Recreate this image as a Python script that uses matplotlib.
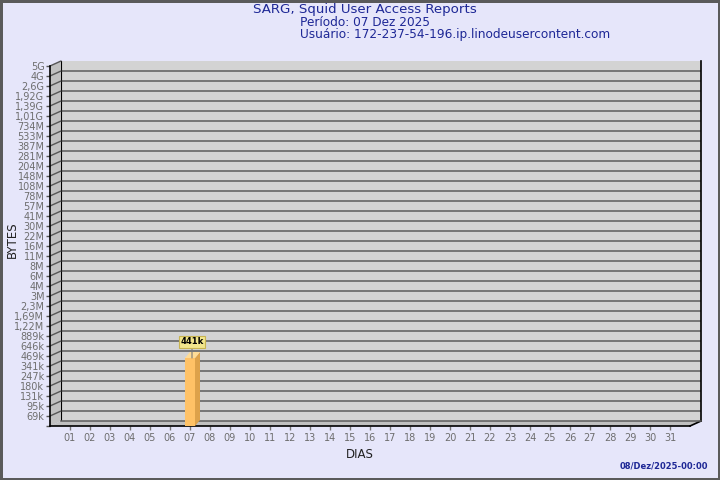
import numpy as np
import matplotlib.pyplot as plt
from matplotlib.patches import Polygon, ConnectionPatch
from matplotlib.lines import Line2D

# data
days = list(range(1, 32))
day_labels = ['%02d' % d for d in days]
bytes_day = [0] * 31
bytes_day[6] = 441000
bar_labels = {7: '441k'}

y_labels = ['69k', '95k', '131k', '180k', '247k', '341k', '469k', '646k', '889k',
            '1,22M', '1,69M', '2,3M', '3M', '4M', '6M', '8M', '11M', '16M', '22M',
            '30M', '41M', '57M', '78M', '108M', '148M', '204M', '281M', '387M',
            '533M', '734M', '1,01G', '1,39G', '1,92G', '2,6G', '4G', '5G']
y_low, y_high = 69e3, 5e9

bg = '#E6E6FA'
navy = '#1E2896'
W, H = 720, 480
DX, DY = 11, 5   # depth of the box, pixels

def fx(x, y):
    return (x / W, 1 - y / H)

fig = plt.figure(figsize=(7.2, 4.8), dpi=100, facecolor=bg,
                 edgecolor='#5A5A5A', linewidth=2.5)

ticks = np.geomspace(y_low, y_high, len(y_labels))
floor = ticks[0] / (ticks[1] / ticks[0])

# front plane (where bars and tick labels live)
L, T, Wd, Ht = 50, 66, 640, 360
ax = fig.add_axes([L / W, 1 - (T + Ht) / H, Wd / W, Ht / H], zorder=2)
ax.set_facecolor('none')
# back wall
back = fig.add_axes([(L + DX) / W, 1 - (T - DY + Ht) / H, Wd / W, Ht / H], zorder=0)
back.set_facecolor('#D3D3D3')

for a in (ax, back):
    a.set_yscale('log')
    a.set_ylim(floor, y_high)
    a.set_xlim(0, 32)
    a.minorticks_off()

back.set_xticks([])
back.set_yticks([])
back.hlines(ticks[:-1], 0, 32, colors='#5C5C5C', lw=1.1)
for s in ('top', 'bottom'):
    back.spines[s].set_visible(False)
back.spines['left'].set_color('black')
back.spines['right'].set_color('black')
back.spines['right'].set_linewidth(1.2)

# left wall and floor
x0, y0 = L, T + Ht
fig.add_artist(Polygon([fx(L, T), fx(L + DX, T - DY), fx(L + DX, y0 - DY), fx(L, y0)],
                       closed=True, transform=fig.transFigure, fc='#C0C0C0', ec='none', zorder=1))
fig.add_artist(Polygon([fx(L, y0), fx(L + DX, y0 - DY), fx(L + Wd + DX, y0 - DY), fx(L + Wd, y0)],
                       closed=True, transform=fig.transFigure, fc='#C0C0C0', ec='none', zorder=1))
fig.add_artist(Line2D([fx(L + Wd + DX, 0)[0], fx(L + Wd, 0)[0]],
                      [fx(0, y0 - DY)[1], fx(0, y0)[1]], transform=fig.transFigure,
                      color='black', lw=1.2, zorder=1))
fig.add_artist(Line2D([fx(L + DX, 0)[0], fx(L + Wd + DX, 0)[0]],
                      [fx(0, y0 - DY)[1], fx(0, y0 - DY)[1]], transform=fig.transFigure,
                      color='#5C5C5C', lw=1.1, zorder=1))

# tick diagonals from front to back
for v in ticks:
    ax.add_artist(ConnectionPatch(xyA=(0, v), coordsA=ax.get_yaxis_transform(),
                                  xyB=(0, v), coordsB=back.get_yaxis_transform(),
                                  color='#555555', lw=1.0, clip_on=False))

# axis styling
ax.set_yticks([floor] + list(ticks))
ax.set_yticklabels([''] + y_labels)
ax.set_xticks(days)
ax.set_xticklabels(day_labels)
ax.tick_params(axis='y', length=3, width=1, color='#555555', labelsize=7,
               labelcolor='#6E6E6E', pad=1)
ax.tick_params(axis='x', length=3, width=1, color='#777777', labelsize=7,
               labelcolor='#6E6E6E', pad=2)
for s in ('top', 'right'):
    ax.spines[s].set_visible(False)
ax.spines['left'].set_color('black')
ax.spines['bottom'].set_color('black')
ax.spines['left'].set_linewidth(1.2)
ax.spines['bottom'].set_linewidth(1.2)

# bars (with 3d faces)
bx = [d for d, v in zip(days, bytes_day) if v > 0]
bv = [v for v in bytes_day if v > 0]
bars = ax.bar(bx, [v - floor for v in bv], bottom=floor, width=0.5,
              color='#FFC266', edgecolor='none', zorder=3)
sx, sy = 5, 6
for r, d, v in zip(bars, bx, bv):
    (xa, ya), (xb, yb) = ax.transData.transform([(r.get_x(), floor),
                                                 (r.get_x() + r.get_width(), v)])
    side = Polygon([(xb, ya), (xb + sx, ya + sy), (xb + sx, yb + sy), (xb, yb)],
                   closed=True, transform=None, fc='#DDA24A', ec='none', zorder=3, clip_on=False)
    top = Polygon([(xa, yb), (xa + sx, yb + sy), (xb + sx, yb + sy), (xb, yb)],
                  closed=True, transform=None, fc='#FFDC96', ec='none', zorder=3, clip_on=False)
    ax.add_patch(side)
    ax.add_patch(top)
    ax.annotate(bar_labels[d], xy=(d + 0.1, v), xytext=(0, 16), textcoords='offset pixels',
                ha='center', va='center', fontsize=6, fontweight='bold', color='black',
                bbox=dict(boxstyle='square,pad=0.2', fc='#F2E68C', ec='#C8B450', lw=0.8),
                arrowprops=dict(arrowstyle='-', color='#777777', lw=0.8,
                                shrinkA=0, shrinkB=0))

# texts
fig.text(253 / W, 1 - 10 / H, 'SARG, Squid User Access Reports', fontsize=9.6,
         color=navy, ha='left', va='center')
fig.text(300 / W, 1 - 15.5 / H,
         'Período: 07 Dez 2025\nUsuário: 172-237-54-196.ip.linodeusercontent.com',
         fontsize=8.7, color=navy, ha='left', va='top', linespacing=0.93)
fig.text(12 / W, 1 - 240 / H, 'BYTES', rotation=90, fontsize=8.5, color='#222222',
         ha='center', va='center')
fig.text(360 / W, 1 - 455 / H, 'DIAS', fontsize=8.5, color='#222222',
         ha='center', va='center')
fig.text(708 / W, 1 - 466 / H, '08/Dez/2025-00:00', fontsize=6, fontweight='bold',
         color=navy, ha='right', va='center')

fig.savefig('out.png', dpi=100, facecolor=bg)
